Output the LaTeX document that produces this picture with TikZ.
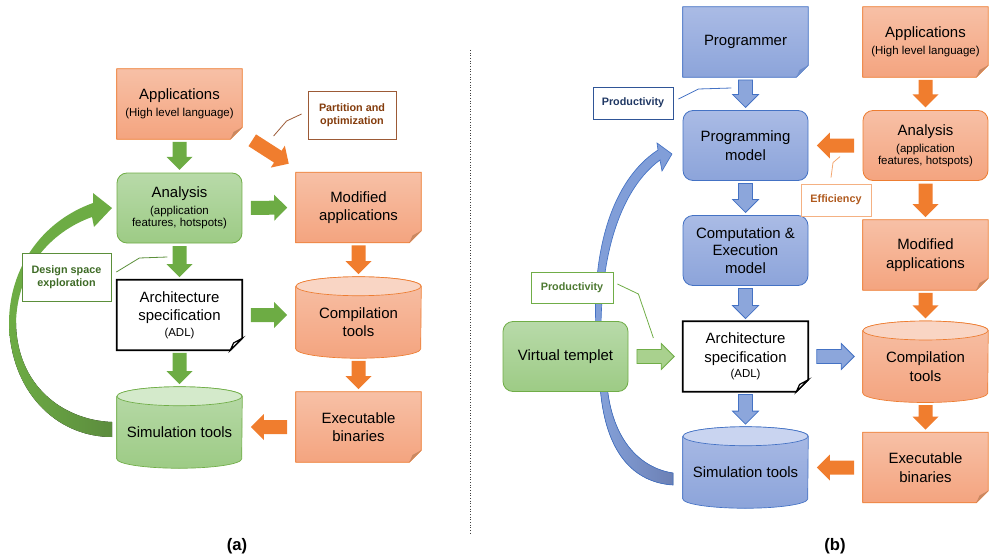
\documentclass[tikz,border=0pt]{standalone}
\usepackage{fontspec}
\setmainfont{Liberation Sans}
\usetikzlibrary{calc,backgrounds}

% palette
\definecolor{orgTopC}{HTML}{F7C0A6}
\definecolor{orgBotC}{HTML}{F4A47F}
\definecolor{orgEdge}{HTML}{ED7D31}
\definecolor{orgFace}{HTML}{F9D5C4}
\definecolor{orgFold}{HTML}{C98862}
\definecolor{orgArr}{HTML}{F07D2E}
\definecolor{grnTopC}{HTML}{B8DAA9}
\definecolor{grnBotC}{HTML}{9DCB85}
\definecolor{grnEdge}{HTML}{70AD47}
\definecolor{grnFace}{HTML}{D4EACB}
\definecolor{grnArr}{HTML}{6DAC44}
\definecolor{grnLight}{HTML}{A9D18E}
\definecolor{grnDark}{HTML}{5C8C3E}
\definecolor{bluTopC}{HTML}{AABBE5}
\definecolor{bluBotC}{HTML}{8CA4DA}
\definecolor{bluEdge}{HTML}{4472C4}
\definecolor{bluFace}{HTML}{C9D4F0}
\definecolor{bluFold}{HTML}{6E8DCB}
\definecolor{bluArr}{HTML}{8CA6DB}
\definecolor{bluDark}{HTML}{6C80B4}
\definecolor{partTxt}{HTML}{843C0C}
\definecolor{partEdge}{HTML}{9C5A36}
\definecolor{dseTxt}{HTML}{3E6B26}
\definecolor{dseEdge}{HTML}{5B8F3A}
\definecolor{prodTxt}{HTML}{203864}
\definecolor{prodEdge}{HTML}{2F5597}
\definecolor{effTxt}{HTML}{B05A1E}
\definecolor{effEdge}{HTML}{F4B183}
\definecolor{pgTxt}{HTML}{4E7A32}

\newcommand\bodytxt{\fontsize{11.2}{14}\selectfont}
\newcommand\smtxt{\fontsize{8.6}{10.5}\selectfont}
\newcommand\calltxt{\fontsize{8.1}{10}\selectfont\bfseries}

% rectangle with a folded bottom-right corner, drawn behind node #1
\newcommand\foldbox[3]{%
  \path[#2] (#1.north west) -- (#1.north east) -- ([yshift=9pt]#1.south east)
    -- ([xshift=-9pt]#1.south east) -- (#1.south west) -- cycle;
  \path[#3] ([yshift=9pt]#1.south east) -- ([xshift=-9pt]#1.south east)
    -- ([xshift=-6.5pt,yshift=5.5pt]#1.south east) -- cycle;}

% upright cylinder; node #1 spans from the top ellipse centre to the bottom
\newcommand\cylbox[3]{%
  \path[#2] (#1.north west) -- ([yshift=7.1pt]#1.south west)
    arc[start angle=180,end angle=360,x radius=46.875pt,y radius=7.1pt]
    -- (#1.north east)
    arc[start angle=0,end angle=180,x radius=46.875pt,y radius=7.1pt] -- cycle;
  \path[#3] (#1.north) ellipse[x radius=46.875pt,y radius=7.1pt];}

\begin{document}
\begin{tikzpicture}[x=0.75pt,y=-0.75pt,
  box/.style={minimum width=93.75pt,minimum height=52.5pt,inner sep=0pt,
    align=center,font=\bodytxt},
  rbox/.style={box,rounded corners=7.5pt,line width=0.6pt},
  obox/.style={rbox,top color=orgTopC,bottom color=orgBotC,draw=orgEdge},
  gbox/.style={rbox,top color=grnTopC,bottom color=grnBotC,draw=grnEdge},
  bbox/.style={rbox,top color=bluTopC,bottom color=bluBotC,draw=bluEdge},
  cylnode/.style={box,minimum height=53.6pt},
  callout/.style={draw,fill=white,line width=0.6pt,inner sep=0pt,align=center,
    font=\calltxt},
  orgbody/.style={top color=orgTopC,bottom color=orgBotC,draw=orgEdge,line width=0.5pt},
  grnbody/.style={top color=grnTopC,bottom color=grnBotC,draw=grnEdge,line width=0.5pt},
  blubody/.style={top color=bluTopC,bottom color=bluBotC,draw=bluEdge,line width=0.5pt},
  garr/.style={fill=grnArr},
  oarr/.style={fill=orgArr},
  barr/.style={fill=bluArr,draw=bluEdge,line width=0.6pt},
  lgarr/.style={fill=grnLight,draw=grnEdge,line width=0.6pt},
  barrow/.style={to path={
    let \p1=($(\tikztostart)!#1!(\tikztotarget)$),
        \p2=($(\tikztotarget)!#1!(\tikztostart)$),
        \p3=($(\p2)!9.75pt!(\p1)$)
    in ($(\p1)!5.25pt!90:(\p2)$) -- ($(\p3)!5.25pt!90:(\p2)$)
       -- ($(\p3)!9.75pt!90:(\p2)$) -- (\p2)
       -- ($(\p3)!9.75pt!-90:(\p2)$) -- ($(\p3)!5.25pt!-90:(\p2)$)
       -- ($(\p1)!5.25pt!-90:(\p2)$) -- cycle}}]

\useasboundingbox (0,0) rectangle (989,560);

% ---------------- (a) ----------------
\node[box] (appL) at (179.5,104) {Applications\\[-1.5pt]\smtxt (High level language)};
\node[gbox] (anaL) at (179.5,208) {Analysis\\[-1.5pt]\smtxt (application\\[-5pt]\smtxt features, hotspots)};
\node[box] (archL) at (179.5,315) {Architecture\\specification\\[-2.5pt]\smtxt (ADL)};
\node[cylnode] (simL) at (179.5,432.25) {Simulation tools};
\node[box] (modL) at (358.5,207.5) {Modified\\applications};
\node[cylnode] (cmpL) at (358.5,322.25) {Compilation\\tools};
\node[box] (exeL) at (358.5,427) {Executable\\binaries};
\node[callout,draw=partEdge,text=partTxt,minimum width=66pt,minimum height=36pt]
  (part) at (352,115) {Partition and\\optimization};
\node[callout,draw=dseEdge,text=dseTxt,minimum width=66.75pt,minimum height=36pt]
  (dse) at (66.5,277) {Design space\\exploration};

\coordinate (simLtop) at ([yshift=7.1pt]simL.north);
\coordinate (cmpLtop) at ([yshift=7.1pt]cmpL.north);
\coordinate (cmpLin) at (archL.east -| cmpL.west);
\coordinate (simLin) at (exeL.west -| simL.east);
\coordinate (pA) at ([xshift=7.5pt,yshift=-0.75pt]appL.south east);
\coordinate (pB) at ([xshift=-5.25pt,yshift=6.4pt]modL.north west);

\fill[garr] (appL.south) to[barrow=2pt] (anaL.north);
\fill[garr] (anaL.south) to[barrow=2pt] (archL.north);
\fill[garr] (archL.south) to[barrow=2pt] (simLtop);
\fill[garr] (anaL.east) to[barrow=6.4pt] (modL.west);
\fill[garr] (archL.east) to[barrow=6.4pt] (cmpLin);
\fill[oarr] (modL.south) to[barrow=2pt] (cmpLtop);
\fill[oarr] (cmpL.south) to[barrow=2pt] (exeL.north);
\fill[oarr] (exeL.west) to[barrow=6.4pt] (simLin);
\fill[oarr] (pA) to[barrow=0pt] (pB);

\draw[partEdge,line width=0.6pt] (part.west) ++(-6,-1) -- ++(-15,7) -- ++(-13,15);
\draw[dseEdge,line width=0.6pt] (dse.east) ++(5,-5) -- ++(23,-14) -- ++(28,-1);

% ---------------- (b) ----------------
\node[box] (prog) at (745.5,42) {Programmer};
\node[box] (appR) at (925.5,42) {Applications\\[-1.5pt]\smtxt (High level language)};
\node[bbox] (pm) at (745.5,145.5) {Programming\\model};
\node[obox] (anaR) at (925.5,145.5) {Analysis\\[-1.5pt]\smtxt (application\\[-5pt]\smtxt features, hotspots)};
\node[bbox] (cem) at (745.5,250.5) {Computation \&\\[-0.75pt]Execution\\[-0.75pt]model};
\node[box] (modR) at (925.5,255) {Modified\\applications};
\node[gbox] (vt) at (565.5,356.5) {Virtual templet};
\node[box] (archR) at (745.5,356.5) {Architecture\\specification\\[-2.5pt]\smtxt (ADL)};
\node[cylnode] (cmpR) at (925.5,366.5) {Compilation\\tools};
\node[cylnode] (simR) at (745.5,472.25) {Simulation tools};
\node[box] (exeR) at (925.5,467.5) {Executable\\binaries};
\node[callout,draw=prodEdge,text=prodTxt,minimum width=60pt,minimum height=24pt]
  (prodB) at (633,103) {Productivity};
\node[callout,draw=effEdge,text=effTxt,minimum width=52.5pt,minimum height=24pt]
  (eff) at (836,200) {Efficiency};
\node[callout,draw=grnEdge,text=pgTxt,minimum width=61.5pt,minimum height=23.25pt]
  (prodG) at (572,287.5) {Productivity};

\coordinate (simRtop) at ([yshift=7.1pt]simR.north);
\coordinate (cmpRtop) at ([yshift=7.1pt]cmpR.north);
\coordinate (cmpRin) at (archR.east -| cmpR.west);
\coordinate (simRin) at (exeR.west -| simR.east);

\filldraw[barr] (prog.south) to[barrow=2pt] (pm.north);
\filldraw[barr] (pm.south) to[barrow=2pt] (cem.north);
\filldraw[barr] (cem.south) to[barrow=2pt] (archR.north);
\filldraw[barr] (archR.south) to[barrow=2pt] (simRtop);
\filldraw[barr] (archR.east) to[barrow=6.4pt] (cmpRin);
\filldraw[lgarr] (vt.east) to[barrow=6.4pt] (archR.west);
\fill[oarr] (appR.south) to[barrow=2pt] (anaR.north);
\fill[oarr] (anaR.south) to[barrow=2pt] (modR.north);
\fill[oarr] (modR.south) to[barrow=2pt] (cmpRtop);
\fill[oarr] (cmpR.south) to[barrow=2pt] (exeR.north);
\fill[oarr] (anaR.west) to[barrow=6.4pt] (pm.east);
\fill[oarr] (exeR.west) to[barrow=6.4pt] (simRin);

\draw[bluEdge,line width=0.6pt] (prodB.east) ++(5,-4) -- ++(20,-10) -- ++(33,-1);
\draw[effEdge!80!orgEdge,line width=0.6pt] (eff.north) ++(-5,-6) -- ++(2,-15) -- ++(7,-6);
\draw[grnEdge,line width=0.6pt] (prodG.east) ++(4,-3.5) -- ++(21,10) -- ++(15,44);

% separator and captions
\draw[black!75,line width=0.6pt,dash pattern=on 0.8pt off 1.2pt] (470,50) -- (470,533);
\node[font=\fontsize{12.5}{14}\selectfont\bfseries] (la) at (237,546) {(a)};
\node[font=\fontsize{12.5}{14}\selectfont\bfseries] (lb) at (835,546) {(b)};

% ---------------- shapes behind the text ----------------
\begin{scope}[on background layer]
  % design-space loop of (a)
  \fill[left color=grnArr,right color=grnDark] (9,323) .. controls (10,390) and (55,437) .. (112,437)
    -- (112,422) .. controls (62,420) and (17,385) .. (16,323) -- cycle;
  \fill[grnArr] (9,323) .. controls (9,270) and (40,222) .. (93,203) -- (93,193) -- (112,208)
    -- (94,227) -- (92,217) .. controls (50,232) and (17,270) .. (16,323) -- cycle;
  % productivity loop of (b)
  \filldraw[left color=bluArr!90!bluEdge,right color=bluDark,draw=bluEdge,line width=0.5pt]
    (600,385) .. controls (604,445) and (628,482) .. (673,485)
    -- (673,473) .. controls (640,468) and (612,440) .. (607,385) -- cycle;
  \filldraw[fill=bluArr!85!bluEdge,draw=bluEdge,line width=0.5pt]
    (596,330) .. controls (592,250) and (612,180) .. (658,150) -- (657,143) -- (672,154)
    -- (662,171) -- (660,160) .. controls (622,188) and (601,250) .. (601,330) -- cycle;

  \foldbox{appL}{orgbody}{fill=orgFold}
  \foldbox{modL}{orgbody}{fill=orgFold}
  \foldbox{exeL}{orgbody}{fill=orgFold}
  \foldbox{archL}{fill=white,draw=black,line width=1.2pt}{fill=white,draw=black,line width=0.9pt}
  \cylbox{cmpL}{orgbody}{fill=orgFace,draw=orgEdge,line width=0.5pt}
  \cylbox{simL}{grnbody}{fill=grnFace,draw=grnEdge,line width=0.5pt}

  \foldbox{prog}{blubody}{fill=bluFold}
  \foldbox{appR}{orgbody}{fill=orgFold}
  \foldbox{modR}{orgbody}{fill=orgFold}
  \foldbox{exeR}{orgbody}{fill=orgFold}
  \foldbox{archR}{fill=white,draw=black,line width=1.2pt}{fill=white,draw=black,line width=0.9pt}
  \cylbox{cmpR}{orgbody}{fill=orgFace,draw=orgEdge,line width=0.5pt}
  \cylbox{simR}{blubody}{fill=bluFace,draw=bluEdge,line width=0.5pt}
\end{scope}
\end{tikzpicture}
\end{document}
